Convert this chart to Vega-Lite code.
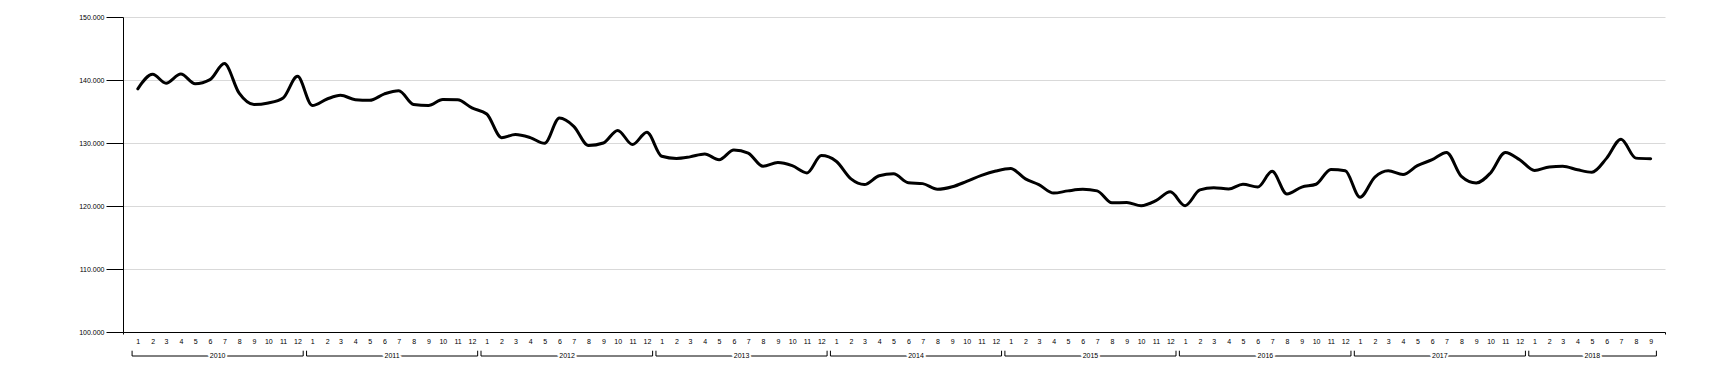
{
  "$schema": "https://vega.github.io/schema/vega-lite/v6.json",
  "width": 1542,
  "height": 315,
  "autosize": "none",
  "padding": {"left": 123, "top": 17, "right": 62, "bottom": 42},
  "background": "white",
  "config": {"view": {"stroke": null}, "font": "Liberation Sans"},
  "datasets": {
    "series": [
      {"date": "2010-01-01", "value": 138600}, {"date": "2010-02-01", "value": 140900}, {"date": "2010-03-01", "value": 139500}, {"date": "2010-04-01", "value": 140950}, {"date": "2010-05-01", "value": 139400}, {"date": "2010-06-01", "value": 140050}, {"date": "2010-07-01", "value": 142600}, {"date": "2010-08-01", "value": 137900}, {"date": "2010-09-01", "value": 136100}, {"date": "2010-10-01", "value": 136350}, {"date": "2010-11-01", "value": 137150}, {"date": "2010-12-01", "value": 140580},
      {"date": "2011-01-01", "value": 135950}, {"date": "2011-02-01", "value": 136980}, {"date": "2011-03-01", "value": 137570}, {"date": "2011-04-01", "value": 136880}, {"date": "2011-05-01", "value": 136770}, {"date": "2011-06-01", "value": 137800}, {"date": "2011-07-01", "value": 138300}, {"date": "2011-08-01", "value": 136100}, {"date": "2011-09-01", "value": 135950}, {"date": "2011-10-01", "value": 136900}, {"date": "2011-11-01", "value": 136850}, {"date": "2011-12-01", "value": 135560},
      {"date": "2012-01-01", "value": 134600}, {"date": "2012-02-01", "value": 130850}, {"date": "2012-03-01", "value": 131350}, {"date": "2012-04-01", "value": 130850}, {"date": "2012-05-01", "value": 129950}, {"date": "2012-06-01", "value": 133950}, {"date": "2012-07-01", "value": 132650}, {"date": "2012-08-01", "value": 129600}, {"date": "2012-09-01", "value": 130000}, {"date": "2012-10-01", "value": 132000}, {"date": "2012-11-01", "value": 129750}, {"date": "2012-12-01", "value": 131700},
      {"date": "2013-01-01", "value": 127900}, {"date": "2013-02-01", "value": 127550}, {"date": "2013-03-01", "value": 127800}, {"date": "2013-04-01", "value": 128250}, {"date": "2013-05-01", "value": 127350}, {"date": "2013-06-01", "value": 128900}, {"date": "2013-07-01", "value": 128400}, {"date": "2013-08-01", "value": 126300}, {"date": "2013-09-01", "value": 126900}, {"date": "2013-10-01", "value": 126400}, {"date": "2013-11-01", "value": 125250}, {"date": "2013-12-01", "value": 128000},
      {"date": "2014-01-01", "value": 127100}, {"date": "2014-02-01", "value": 124300}, {"date": "2014-03-01", "value": 123400}, {"date": "2014-04-01", "value": 124800}, {"date": "2014-05-01", "value": 125100}, {"date": "2014-06-01", "value": 123700}, {"date": "2014-07-01", "value": 123550}, {"date": "2014-08-01", "value": 122650}, {"date": "2014-09-01", "value": 123050}, {"date": "2014-10-01", "value": 123900}, {"date": "2014-11-01", "value": 124850}, {"date": "2014-12-01", "value": 125550},
      {"date": "2015-01-01", "value": 125950}, {"date": "2015-02-01", "value": 124300}, {"date": "2015-03-01", "value": 123400}, {"date": "2015-04-01", "value": 122050}, {"date": "2015-05-01", "value": 122400}, {"date": "2015-06-01", "value": 122650}, {"date": "2015-07-01", "value": 122400}, {"date": "2015-08-01", "value": 120500}, {"date": "2015-09-01", "value": 120550}, {"date": "2015-10-01", "value": 120050}, {"date": "2015-11-01", "value": 120850}, {"date": "2015-12-01", "value": 122250},
      {"date": "2016-01-01", "value": 120050}, {"date": "2016-02-01", "value": 122550}, {"date": "2016-03-01", "value": 122900}, {"date": "2016-04-01", "value": 122700}, {"date": "2016-05-01", "value": 123450}, {"date": "2016-06-01", "value": 123000}, {"date": "2016-07-01", "value": 125500}, {"date": "2016-08-01", "value": 121900}, {"date": "2016-09-01", "value": 123000}, {"date": "2016-10-01", "value": 123450}, {"date": "2016-11-01", "value": 125800}, {"date": "2016-12-01", "value": 125600},
      {"date": "2017-01-01", "value": 121400}, {"date": "2017-02-01", "value": 124600}, {"date": "2017-03-01", "value": 125600}, {"date": "2017-04-01", "value": 125000}, {"date": "2017-05-01", "value": 126400}, {"date": "2017-06-01", "value": 127350}, {"date": "2017-07-01", "value": 128500}, {"date": "2017-08-01", "value": 124700}, {"date": "2017-09-01", "value": 123650}, {"date": "2017-10-01", "value": 125250}, {"date": "2017-11-01", "value": 128500}, {"date": "2017-12-01", "value": 127350},
      {"date": "2018-01-01", "value": 125650}, {"date": "2018-02-01", "value": 126200}, {"date": "2018-03-01", "value": 126300}, {"date": "2018-04-01", "value": 125750}, {"date": "2018-05-01", "value": 125350}, {"date": "2018-06-01", "value": 127600}, {"date": "2018-07-01", "value": 130600}, {"date": "2018-08-01", "value": 127600}, {"date": "2018-09-01", "value": 127500}
    ],
    "years": [
      {"year": "2010", "start": "2009-12-20", "end": "2010-12-13", "mid": "2010-06-17"},
      {"year": "2011", "start": "2010-12-20", "end": "2011-12-13", "mid": "2011-06-17"},
      {"year": "2012", "start": "2011-12-20", "end": "2012-12-13", "mid": "2012-06-17"},
      {"year": "2013", "start": "2012-12-20", "end": "2013-12-13", "mid": "2013-06-17"},
      {"year": "2014", "start": "2013-12-20", "end": "2014-12-13", "mid": "2014-06-17"},
      {"year": "2015", "start": "2014-12-20", "end": "2015-12-13", "mid": "2015-06-17"},
      {"year": "2016", "start": "2015-12-20", "end": "2016-12-13", "mid": "2016-06-17"},
      {"year": "2017", "start": "2016-12-20", "end": "2017-12-13", "mid": "2017-06-17"},
      {"year": "2018", "start": "2017-12-20", "end": "2018-09-13", "mid": "2018-05-02"}
    ]
  },
  "layer": [
    {
      "data": {"name": "series"},
      "mark": {"type": "line", "interpolate": "monotone", "color": "#000000", "strokeWidth": 3, "strokeJoin": "round", "strokeCap": "round"},
      "encoding": {
        "x": {
          "field": "date", "type": "temporal",
          "scale": {"type": "utc", "domain": [{"year": 2009, "month": 12, "date": 1, "utc": true}, {"year": 2018, "month": 10, "date": 1, "utc": true}], "nice": false},
          "axis": {
            "title": null, "grid": false,
            "tickCount": {"interval": "month", "step": 1},
            "format": "%-m",
            "labelExpr": "datum.value < utc(2010,0,1) || datum.value > utc(2018,8,2) ? '' : datum.label",
            "labelOverlap": false, "labelFlush": false, "labelBound": false,
            "labelFontSize": 7, "labelColor": "#000000", "labelPadding": 3,
            "tickSize": 2, "tickColor": "#000000",
            "tickOpacity": {"condition": {"test": "datum.value < utc(2010,0,1) || datum.value > utc(2018,8,2)", "value": 1}, "value": 0},
            "domainColor": "#000000", "domainWidth": 1
          }
        },
        "y": {
          "field": "value", "type": "quantitative",
          "scale": {"domain": [100000, 150000], "nice": false, "zero": false},
          "axis": {
            "title": null,
            "values": [100000, 110000, 120000, 130000, 140000, 150000],
            "labelExpr": "replace(format(datum.value, ',.0f'), ',', '.')",
            "labelFontSize": 7, "labelColor": "#000000", "labelPadding": 2,
            "tickSize": 17, "tickColor": "#000000",
            "domainColor": "#000000",
            "grid": true, "gridColor": "#d9d9d9", "gridWidth": 1
          }
        }
      }
    },
    {
      "data": {"name": "years"},
      "mark": {"type": "rule", "color": "#000000", "strokeWidth": 1},
      "encoding": {
        "x": {"field": "start", "type": "temporal", "scale": {"type": "utc"}},
        "x2": {"field": "end"},
        "y": {"datum": 96190}
      }
    },
    {
      "data": {"name": "years"},
      "mark": {"type": "rule", "color": "#000000", "strokeWidth": 1},
      "encoding": {
        "x": {"field": "start", "type": "temporal", "scale": {"type": "utc"}},
        "y": {"datum": 96190},
        "y2": {"datum": 97030}
      }
    },
    {
      "data": {"name": "years"},
      "mark": {"type": "rule", "color": "#000000", "strokeWidth": 1},
      "encoding": {
        "x": {"field": "end", "type": "temporal", "scale": {"type": "utc"}},
        "y": {"datum": 96190},
        "y2": {"datum": 97030}
      }
    },
    {
      "data": {"name": "years"},
      "mark": {"type": "text", "fontSize": 7, "baseline": "middle", "align": "center", "stroke": "#ffffff", "strokeWidth": 4, "fill": "#ffffff"},
      "encoding": {
        "x": {"field": "mid", "type": "temporal", "scale": {"type": "utc"}},
        "y": {"datum": 96190},
        "text": {"field": "year"}
      }
    },
    {
      "data": {"name": "years"},
      "mark": {"type": "text", "fontSize": 7, "baseline": "middle", "align": "center", "color": "#000000"},
      "encoding": {
        "x": {"field": "mid", "type": "temporal", "scale": {"type": "utc"}},
        "y": {"datum": 96190},
        "text": {"field": "year"}
      }
    }
  ]
}
